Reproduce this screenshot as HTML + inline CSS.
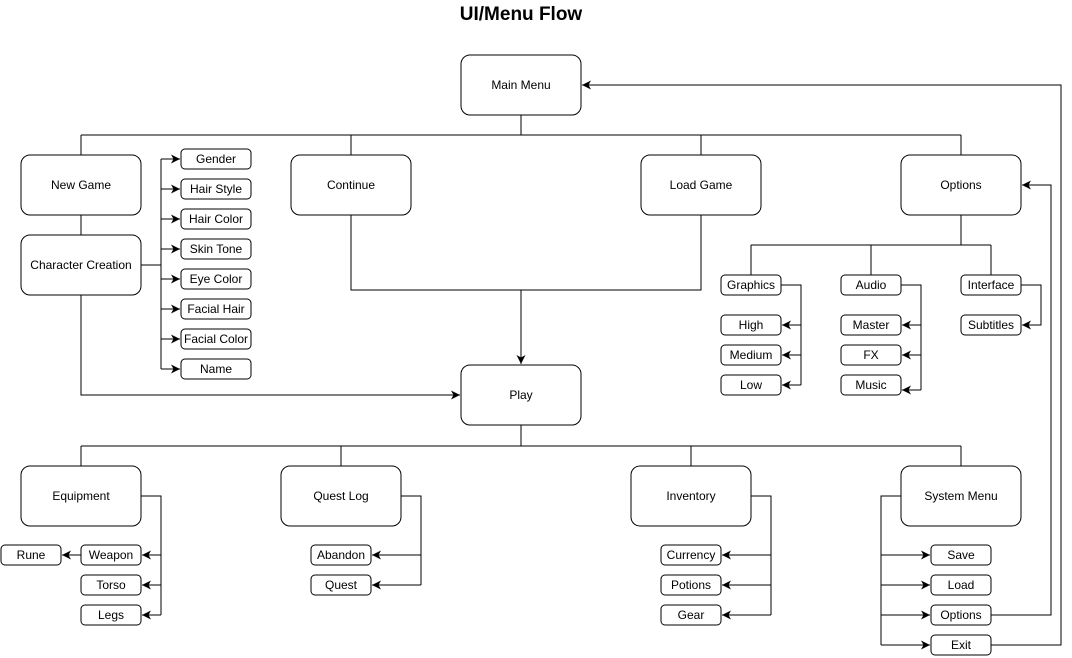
<!DOCTYPE html>
<html><head><style>body{margin:0;background:#fff}svg{display:block}text{font-family:"Liberation Sans",sans-serif;font-size:12px;fill:#000}</style></head><body>
<svg width="1072" height="658" viewBox="0 0 1072 658" xmlns="http://www.w3.org/2000/svg">
<defs><marker id="a" markerWidth="10" markerHeight="10" refX="9" refY="4.5" orient="auto" markerUnits="userSpaceOnUse"><path d="M0,0 L9,4.5 L0,9 L2.5,4.5 z" fill="#000"/></marker></defs>
<text x="521" y="20" text-anchor="middle" style="font-size:19px;font-weight:bold">UI/Menu Flow</text>
<g fill="#fff" stroke="#000">
<rect x="461" y="55" width="120" height="60" rx="9"/>
<rect x="21" y="155" width="120" height="60" rx="9"/>
<rect x="291" y="155" width="120" height="60" rx="9"/>
<rect x="641" y="155" width="120" height="60" rx="9"/>
<rect x="901" y="155" width="120" height="60" rx="9"/>
<rect x="21" y="235" width="120" height="60" rx="9"/>
<rect x="461" y="365" width="120" height="60" rx="9"/>
<rect x="21" y="466" width="120" height="60" rx="9"/>
<rect x="281" y="466" width="120" height="60" rx="9"/>
<rect x="631" y="466" width="120" height="60" rx="9"/>
<rect x="901" y="466" width="120" height="60" rx="9"/>
<rect x="181" y="149" width="70" height="20" rx="4"/>
<rect x="181" y="179" width="70" height="20" rx="4"/>
<rect x="181" y="209" width="70" height="20" rx="4"/>
<rect x="181" y="239" width="70" height="20" rx="4"/>
<rect x="181" y="269" width="70" height="20" rx="4"/>
<rect x="181" y="299" width="70" height="20" rx="4"/>
<rect x="181" y="329" width="70" height="20" rx="4"/>
<rect x="181" y="359" width="70" height="20" rx="4"/>
<rect x="721" y="275" width="60" height="20" rx="4"/>
<rect x="721" y="315" width="60" height="20" rx="4"/>
<rect x="721" y="345" width="60" height="20" rx="4"/>
<rect x="721" y="375" width="60" height="20" rx="4"/>
<rect x="841" y="275" width="60" height="20" rx="4"/>
<rect x="841" y="315" width="60" height="20" rx="4"/>
<rect x="841" y="345" width="60" height="20" rx="4"/>
<rect x="841" y="375" width="60" height="20" rx="4"/>
<rect x="961" y="275" width="60" height="20" rx="4"/>
<rect x="961" y="315" width="60" height="20" rx="4"/>
<rect x="81" y="545" width="60" height="20" rx="4"/>
<rect x="81" y="575" width="60" height="20" rx="4"/>
<rect x="81" y="605" width="60" height="20" rx="4"/>
<rect x="1" y="545" width="60" height="20" rx="4"/>
<rect x="311" y="545" width="60" height="20" rx="4"/>
<rect x="311" y="575" width="60" height="20" rx="4"/>
<rect x="661" y="545" width="60" height="20" rx="4"/>
<rect x="661" y="575" width="60" height="20" rx="4"/>
<rect x="661" y="605" width="60" height="20" rx="4"/>
<rect x="931" y="545" width="60" height="20" rx="4"/>
<rect x="931" y="575" width="60" height="20" rx="4"/>
<rect x="931" y="605" width="60" height="20" rx="4"/>
<rect x="931" y="635" width="60" height="20" rx="4"/>
</g>
<g fill="none" stroke="#000" stroke-width="1">
<path d="M521 115V135M81 135H961M81 135V155M351 135V155M701 135V155M961 135V155"/>
<path d="M81 215V235M141 265H161M161 159V369"/>
<path d="M351 215V290H701V215"/>
<path d="M961 215V245M751 245H991M751 245V275M871 245V275M991 245V275"/>
<path d="M781 285H801V385M901 285H921V390"/>
<path d="M521 425V446M81 446H961M81 446V466M341 446V466M691 446V466M961 446V466"/>
<path d="M141 496H161V615M401 496H421V585M751 496H771V615M901 496H881V645"/>
</g>
<g fill="none" stroke="#000" stroke-width="1" marker-end="url(#a)">
<path d="M161 159H180"/><path d="M161 189H180"/><path d="M161 219H180"/><path d="M161 249H180"/>
<path d="M161 279H180"/><path d="M161 309H180"/><path d="M161 339H180"/><path d="M161 369H180"/>
<path d="M81 295V395H460"/>
<path d="M521 290V364"/>
<path d="M801 325H782"/><path d="M801 355H782"/><path d="M801 385H782"/>
<path d="M921 325H902"/><path d="M921 355H902"/><path d="M921 390H902"/>
<path d="M1021 285H1041V325H1022"/>
<path d="M161 555H142"/><path d="M161 585H142"/><path d="M161 615H142"/>
<path d="M81 555H62"/>
<path d="M421 555H372"/><path d="M421 585H372"/>
<path d="M771 555H722"/><path d="M771 585H722"/><path d="M771 615H722"/>
<path d="M881 555H930"/><path d="M881 585H930"/><path d="M881 615H930"/><path d="M881 645H930"/>
<path d="M991 615H1051V185H1022"/>
<path d="M991 645H1061V85H582"/>
</g>
<g text-anchor="middle">
<text x="521" y="89">Main Menu</text>
<text x="81" y="189">New Game</text>
<text x="351" y="189">Continue</text>
<text x="701" y="189">Load Game</text>
<text x="961" y="189">Options</text>
<text x="81" y="269">Character Creation</text>
<text x="521" y="399">Play</text>
<text x="81" y="500">Equipment</text>
<text x="341" y="500">Quest Log</text>
<text x="691" y="500">Inventory</text>
<text x="961" y="500">System Menu</text>
<text x="216" y="163">Gender</text>
<text x="216" y="193">Hair Style</text>
<text x="216" y="223">Hair Color</text>
<text x="216" y="253">Skin Tone</text>
<text x="216" y="283">Eye Color</text>
<text x="216" y="313">Facial Hair</text>
<text x="216" y="343">Facial Color</text>
<text x="216" y="373">Name</text>
<text x="751" y="289">Graphics</text>
<text x="751" y="329">High</text>
<text x="751" y="359">Medium</text>
<text x="751" y="389">Low</text>
<text x="871" y="289">Audio</text>
<text x="871" y="329">Master</text>
<text x="871" y="359">FX</text>
<text x="871" y="389">Music</text>
<text x="991" y="289">Interface</text>
<text x="991" y="329">Subtitles</text>
<text x="111" y="559">Weapon</text>
<text x="111" y="589">Torso</text>
<text x="111" y="619">Legs</text>
<text x="31" y="559">Rune</text>
<text x="341" y="559">Abandon</text>
<text x="341" y="589">Quest</text>
<text x="691" y="559">Currency</text>
<text x="691" y="589">Potions</text>
<text x="691" y="619">Gear</text>
<text x="961" y="559">Save</text>
<text x="961" y="589">Load</text>
<text x="961" y="619">Options</text>
<text x="961" y="649">Exit</text>
</g>
</svg>
</body></html>
